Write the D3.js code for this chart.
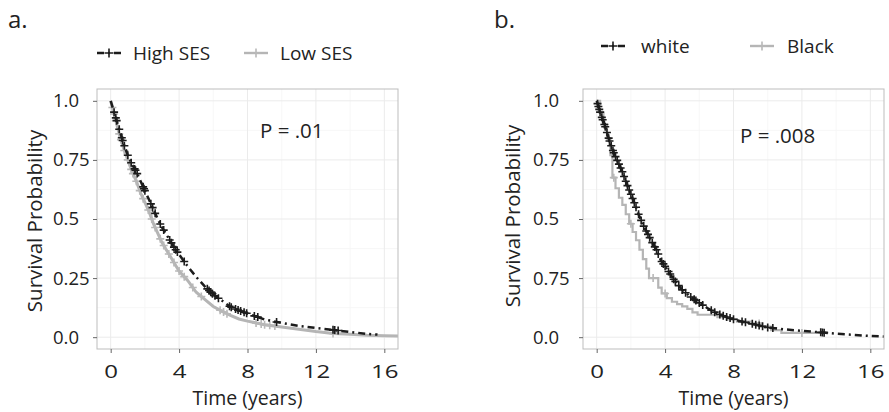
<!DOCTYPE html>
<html>
<head>
<meta charset="utf-8">
<script src="https://cdn.jsdelivr.net/npm/d3@7"></script>
<style>
  body { margin: 0; background: #fff; }
  svg { display: block; font-family: 'Open Sans', sans-serif; }
  .grid-major { stroke: #ebebeb; stroke-width: 1; }
  .grid-minor { stroke: #f5f5f5; stroke-width: 0.8; }
  .panel-border { fill: none; stroke: #bdbdbd; stroke-width: 1; }
</style>
</head>
<body>
<div id="chart"></div>
<script>
// tick labels
const xTicks = [0, 4, 8, 12, 16];
const xMinor = [2, 6, 10, 14];
const yTicks = [0, 0.25, 0.5, 0.75, 1];
const yMinor = [0.125, 0.375, 0.625, 0.875];
const yLabelsA = ['0.0', '0.25', '0.5', '0.75', '1.0'];
const yLabelsB = ['0.0', '0.75', '0.5', '0.75', '1.0'];

// panel a: SES
const timeHigh = [0, 0.25, 0.5, 0.75, 1.0, 1.25, 1.5, 1.75, 2.0, 2.25, 2.5, 2.75, 3.0, 3.25, 3.5, 3.75, 4.0, 4.5, 5.0, 5.5, 6.0, 6.5, 7.0, 7.5, 8.0, 9.0, 10.0, 11.0, 12.0, 13.0, 14.0, 15.0, 15.6];
const survHigh = [1.0, 0.94, 0.88, 0.82, 0.77, 0.73, 0.70, 0.66, 0.62, 0.58, 0.54, 0.50, 0.465, 0.435, 0.405, 0.375, 0.35, 0.30, 0.255, 0.215, 0.18, 0.155, 0.128, 0.113, 0.10, 0.075, 0.06, 0.048, 0.039, 0.031, 0.022, 0.014, 0.011];
const censHigh = [0.2, 0.3, 0.35, 0.5, 0.65, 0.7, 0.8, 1.0, 1.2, 1.4, 1.45, 1.55, 1.9, 1.95, 2.0, 2.35, 2.45, 2.6, 2.9, 3.1, 3.45, 3.55, 3.7, 3.8, 3.9, 4.3, 5.65, 5.75, 5.85, 5.95, 6.1, 6.3, 6.95, 7.05, 7.3, 7.45, 7.6, 7.8, 7.95, 8.4, 8.6, 9.7, 13.0, 13.1, 13.3];

const timeLow = [0, 0.25, 0.5, 0.75, 1.0, 1.25, 1.5, 1.75, 2.0, 2.25, 2.5, 2.75, 3.0, 3.25, 3.5, 3.75, 4.0, 4.5, 5.0, 5.5, 6.0, 6.5, 7.0, 7.5, 8.0, 9.0, 10.0, 11.0, 12.0, 13.0, 14.0, 15.0, 16.0, 16.8];
const survLow = [1.0, 0.93, 0.86, 0.80, 0.75, 0.70, 0.66, 0.61, 0.57, 0.53, 0.48, 0.44, 0.40, 0.37, 0.34, 0.31, 0.28, 0.24, 0.19, 0.16, 0.13, 0.11, 0.092, 0.077, 0.068, 0.053, 0.043, 0.034, 0.024, 0.016, 0.012, 0.008, 0.006, 0.005];
const censLow = [0.1, 0.2, 0.3, 0.5, 0.6, 0.8, 1.0, 1.2, 1.3, 1.5, 1.7, 1.9, 2.2, 2.4, 2.6, 2.9, 3.1, 3.4, 3.7, 4.0, 4.3, 4.8, 5.3, 6.4, 6.6, 6.8, 8.5, 8.8, 9.0, 9.3, 9.6, 13.0];

// panel b: race
const timeWhite = [0, 0.25, 0.5, 0.75, 1.0, 1.25, 1.5, 1.75, 2.0, 2.25, 2.5, 2.75, 3.0, 3.25, 3.5, 3.75, 4.0, 4.5, 5.0, 5.5, 6.0, 6.5, 7.0, 7.5, 8.0, 8.5, 9.0, 10.0, 11.0, 12.0, 13.0, 14.0, 15.0, 16.0, 16.8];
const survWhite = [1.0, 0.94, 0.89, 0.83, 0.78, 0.74, 0.70, 0.65, 0.605, 0.56, 0.51, 0.47, 0.435, 0.40, 0.37, 0.325, 0.30, 0.245, 0.20, 0.17, 0.145, 0.122, 0.102, 0.088, 0.076, 0.066, 0.058, 0.041, 0.033, 0.027, 0.021, 0.015, 0.01, 0.005, 0.003];
const censWhite = [0.05, 0.1, 0.15, 0.2, 0.3, 0.35, 0.45, 0.5, 0.6, 0.7, 0.75, 0.85, 0.95, 1.0, 1.1, 1.2, 1.3, 1.4, 1.5, 1.6, 1.7, 1.8, 1.9, 2.0, 2.1, 2.2, 2.3, 2.45, 2.6, 2.75, 2.9, 3.0, 3.1, 3.25, 3.4, 3.5, 3.6, 3.8, 3.9, 4.0, 4.2, 4.3, 4.5, 4.6, 4.8, 5.0, 5.2, 5.5, 5.7, 5.8, 6.0, 6.2, 6.7, 6.9, 7.2, 7.4, 7.6, 7.8, 8.0, 8.5, 8.7, 9.1, 9.3, 9.5, 9.7, 10.0, 10.3, 13.1, 13.2, 13.3];

const timeBlack = [0, 0.2, 0.4, 0.6, 0.8, 0.92, 1.1, 1.3, 1.5, 1.7, 1.9, 2.1, 2.3, 2.5, 2.7, 2.9, 3.06, 3.6, 3.8, 4.1, 4.4, 4.7, 5.0, 5.3, 5.6, 5.9, 7.06, 7.6, 8.2, 9.0, 9.6, 10.2, 10.8, 13.2];
const survBlack = [1.0, 0.95, 0.90, 0.84, 0.77, 0.675, 0.63, 0.59, 0.56, 0.52, 0.48, 0.445, 0.41, 0.37, 0.33, 0.29, 0.25, 0.21, 0.185, 0.165, 0.15, 0.14, 0.13, 0.12, 0.105, 0.095, 0.085, 0.075, 0.066, 0.058, 0.045, 0.03, 0.018, 0.018];
const censBlack = [1.0, 2.0, 3.3, 4.0, 9.5, 12.0];

const width = 889, height = 412;
const darkColor = '#1c1c1c', greyColor = '#b5b5b5';
const dotDash = '7,4,2,4';

const svg = d3.select('#chart').append('svg')
  .attr('width', width)
  .attr('height', height);

function stepValue(times, surv, t) {
  const i = d3.bisectRight(times, t) - 1;
  return surv[Math.max(0, i)];
}

function smoothValue(times, surv, t) {
  const i = Math.max(0, Math.min(times.length - 2, d3.bisectRight(times, t) - 1));
  const f = (t - times[i]) / (times[i + 1] - times[i]);
  return surv[i] + Math.max(0, Math.min(1, f)) * (surv[i + 1] - surv[i]);
}

function crossPath(s) {
  return `M${-s},0H${s}M0,${-s}V${s}`;
}

function drawPanel(p) {
  const x = d3.scaleLinear().domain([-0.8, 16.8]).range([p.left, p.right]);
  const y = d3.scaleLinear().domain([-0.05, 1.05]).range([p.bottom, p.top]);
  const g = svg.append('g');

  // grid
  g.selectAll('.vminor').data(xMinor).enter().append('line')
    .attr('class', 'grid-minor')
    .attr('x1', d => x(d)).attr('x2', d => x(d))
    .attr('y1', p.top).attr('y2', p.bottom);
  g.selectAll('.hminor').data(yMinor).enter().append('line')
    .attr('class', 'grid-minor')
    .attr('x1', p.left).attr('x2', p.right)
    .attr('y1', d => y(d)).attr('y2', d => y(d));
  g.selectAll('.vmajor').data(xTicks).enter().append('line')
    .attr('class', 'grid-major')
    .attr('x1', d => x(d)).attr('x2', d => x(d))
    .attr('y1', p.top).attr('y2', p.bottom);
  g.selectAll('.hmajor').data(yTicks).enter().append('line')
    .attr('class', 'grid-major')
    .attr('x1', p.left).attr('x2', p.right)
    .attr('y1', d => y(d)).attr('y2', d => y(d));

  const clipId = 'clip-' + p.id;
  svg.append('clipPath').attr('id', clipId).append('rect')
    .attr('x', p.left).attr('y', p.top)
    .attr('width', p.right - p.left).attr('height', p.bottom - p.top);

  const curves = g.append('g').attr('clip-path', `url(#${clipId})`);

  p.series.slice().reverse().forEach(s => {
    const pts = s.times.map((t, i) => [t, s.surv[i]]);
    // big cohorts: steps are sub-pixel, so draw the read knots joined
    const line = d3.line()
      .x(d => x(d[0]))
      .y(d => y(d[1]))
      .curve(s.step ? d3.curveStepAfter : d3.curveLinear);
    const at = s.step ? stepValue : smoothValue;
    curves.append('path')
      .datum(pts)
      .attr('fill', 'none')
      .attr('stroke', s.color)
      .attr('stroke-width', s.width)
      .attr('stroke-dasharray', s.dash)
      .attr('d', line);
    curves.selectAll(null)
      .data(s.cens)
      .enter()
      .append('path')
      .attr('transform', d => `translate(${x(d)},${y(at(s.times, s.surv, d))})`)
      .attr('d', crossPath(4))
      .attr('stroke', s.markColor)
      .attr('stroke-width', 1.6)
      .attr('fill', 'none');
  });

  g.append('rect')
    .attr('class', 'panel-border')
    .attr('x', p.left).attr('y', p.top)
    .attr('width', p.right - p.left).attr('height', p.bottom - p.top);

  // axes
  const xAxis = g.append('g')
    .attr('transform', `translate(0,${p.bottom})`)
    .call(d3.axisBottom(x).tickValues(xTicks).tickSize(4).tickPadding(12));
  xAxis.select('.domain').remove();
  xAxis.selectAll('.tick line').attr('stroke', '#666');
  xAxis.selectAll('.tick text')
    .attr('font-family', "'Open Sans', sans-serif")
    .attr('font-size', 18.5)
    .attr('transform', 'scale(1.3,1)')
    .attr('fill', '#222');

  const yAxis = g.append('g')
    .attr('transform', `translate(${p.left},0)`)
    .call(d3.axisLeft(y).tickValues(yTicks).tickSize(4)
      .tickFormat((d, i) => p.yLabels[i]));
  yAxis.select('.domain').remove();
  yAxis.selectAll('.tick line').attr('stroke', '#666');
  yAxis.selectAll('.tick text')
    .attr('text-anchor', 'start')
    .attr('x', p.labelLeft - p.left)
    .attr('font-family', "'Open Sans', sans-serif")
    .attr('font-size', 18.5)
    .attr('fill', '#222');

  // titles
  g.append('text')
    .attr('x', (p.left + p.right) / 2)
    .attr('y', 405)
    .attr('text-anchor', 'middle')
    .attr('font-size', 19.5)
    .attr('fill', '#222')
    .text('Time (years)');
  g.append('text')
    .attr('transform', `translate(${p.yTitleX},${p.yTitleY}) rotate(-90)`)
    .attr('text-anchor', 'middle')
    .attr('font-size', 20.5)
    .attr('fill', '#222')
    .text('Survival Probability');
  g.append('text')
    .attr('x', p.panelTagX).attr('y', 28)
    .attr('font-size', 24)
    .attr('fill', '#222')
    .text(p.tag);
  g.append('text')
    .attr('x', p.pX).attr('y', p.pY)
    .attr('font-size', 20.5)
    .attr('fill', '#222')
    .text(p.pText);

  // legend
  p.series.forEach((s, i) => {
    const lx = p.legendX[i], ly = p.legendY;
    const lg = g.append('g');
    lg.append('line')
      .attr('x1', lx).attr('x2', lx + 24)
      .attr('y1', ly).attr('y2', ly)
      .attr('stroke', s.color)
      .attr('stroke-width', 2.4)
      .attr('stroke-dasharray', s.dash);
    lg.append('path')
      .attr('transform', `translate(${lx + 12},${ly})`)
      .attr('d', crossPath(4.5))
      .attr('stroke', s.markColor)
      .attr('stroke-width', 1.6);
    lg.append('text')
      .attr('x', p.legendTextX[i]).attr('y', ly + 7)
      .attr('font-size', 19)
      .attr('fill', '#222')
      .text(s.name);
  });
}

drawPanel({
  id: 'a', tag: 'a.', panelTagX: 8,
  left: 97, right: 398, top: 89, bottom: 349,
  labelLeft: 53, yLabels: yLabelsA,
  yTitleX: 42, yTitleY: 221,
  pText: 'P = .01', pX: 260, pY: 138,
  legendX: [97, 244], legendTextX: [133, 280], legendY: 53,
  series: [
    { name: 'High SES', times: timeHigh, surv: survHigh, cens: censHigh, color: darkColor, markColor: darkColor, dash: dotDash, width: 2.5, step: false },
    { name: 'Low SES', times: timeLow, surv: survLow, cens: censLow, color: greyColor, markColor: '#b8b8b8', dash: null, width: 3, step: false }
  ]
});

drawPanel({
  id: 'b', tag: 'b.', panelTagX: 494,
  left: 583, right: 884, top: 89, bottom: 349,
  labelLeft: 533, yLabels: yLabelsB,
  yTitleX: 520, yTitleY: 216,
  pText: 'P = .008', pX: 740, pY: 143,
  legendX: [601, 750], legendTextX: [641, 787], legendY: 46,
  series: [
    { name: 'white', times: timeWhite, surv: survWhite, cens: censWhite, color: darkColor, markColor: darkColor, dash: dotDash, width: 2.5, step: false },
    { name: 'Black', times: timeBlack, surv: survBlack, cens: censBlack, color: greyColor, markColor: '#b8b8b8', dash: null, width: 2.2, step: true }
  ]
});
</script>
</body>
</html>
